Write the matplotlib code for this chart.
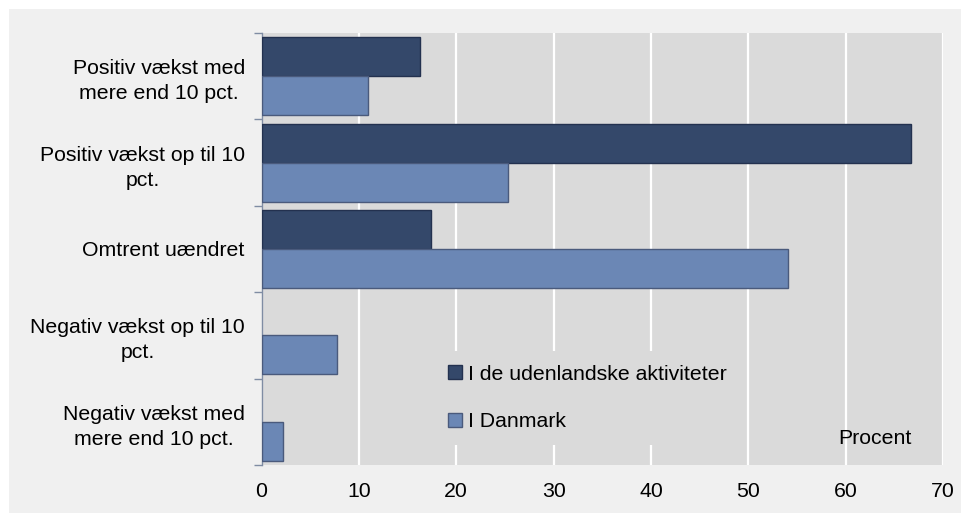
import matplotlib
matplotlib.use('Agg')
import matplotlib.pyplot as plt
import numpy as np
from matplotlib.patches import Rectangle

# Data (percent)
categories = ['Positiv vækst med\nmere end 10 pct.',
              'Positiv vækst op til 10\npct.',
              'Omtrent uændret',
              'Negativ vækst op til 10\npct.',
              'Negativ vækst med\nmere end 10 pct.']
udland = [16.3, 66.7, 17.4, 0.0, 0.0]
danmark = [10.9, 25.3, 54.1, 7.8, 2.2]
series_names = ['I de udenlandske aktiviteter', 'I Danmark']
xticks = [0, 10, 20, 30, 40, 50, 60, 70]

dark = '#34486A'
dark_edge = '#23314F'
light = '#6B87B5'
light_edge = '#4A5A7C'
plot_bg = '#DADADA'
panel_bg = '#F0F0F0'

plt.rcParams['font.family'] = ['Liberation Sans', 'DejaVu Sans']
fs = 15.3

fig = plt.figure(figsize=(9.61, 5.13), dpi=100)
fig.patches.append(Rectangle((9 / 961, 0), 1 - 9 / 961, 1 - 9 / 513,
                             transform=fig.transFigure, facecolor=panel_bg,
                             edgecolor='none', zorder=-10))
ax = fig.add_axes([261.5 / 961, 1 - 465 / 513, 681.5 / 961, 432 / 513])
ax.set_facecolor(plot_bg)

y = np.arange(len(categories))
h = 0.4525
ec1 = [dark_edge if v > 0 else 'none' for v in udland]
ec2 = [light_edge if v > 0 else 'none' for v in danmark]
ax.barh(y - h / 2, udland, height=h, color=dark, edgecolor=ec1, linewidth=1,
        label=series_names[0], zorder=3)
ax.barh(y + h / 2, danmark, height=h, color=light, edgecolor=ec2, linewidth=1,
        label=series_names[1], zorder=3)

ax.set_xlim(0, 70)
ax.set_ylim(len(categories) - 0.5, -0.5)
ax.set_xticks(xticks)
ax.set_xticklabels([str(t) for t in xticks], fontsize=fs)
ax.tick_params(axis='x', length=0, pad=12)
ax.grid(axis='x', color='white', linewidth=1.6, zorder=1)
ax.set_axisbelow(True)

ax.set_yticks(y)
ax.set_yticklabels(categories, fontsize=fs)
for lbl in ax.get_yticklabels():
    lbl.set_multialignment('center')
    lbl.set_linespacing(1.4)
ax.tick_params(axis='y', which='major', length=0, pad=12)
ax.set_yticks(np.arange(len(categories) + 1) - 0.5, minor=True)
ax.tick_params(axis='y', which='minor', length=6, width=1, color='#7F8CA3',
               direction='out')

for s in ['top', 'right', 'bottom']:
    ax.spines[s].set_visible(False)
ax.spines['left'].set_color('#7F8CA3')
ax.spines['left'].set_linewidth(1)

leg = ax.legend(loc='upper left', bbox_to_anchor=(0.254, 0.264),
                borderaxespad=0, fontsize=fs, frameon=True, fancybox=False,
                facecolor=plot_bg, edgecolor='none', framealpha=1,
                handlelength=0.62, handleheight=0.62, handletextpad=0.3,
                labelspacing=1.35, borderpad=0.65)
leg.set_zorder(4)

ax.text(0.847, 0.0625, 'Procent', transform=ax.transAxes, fontsize=fs,
        ha='left', va='center', zorder=5)

fig.savefig('out.png', dpi=100)
